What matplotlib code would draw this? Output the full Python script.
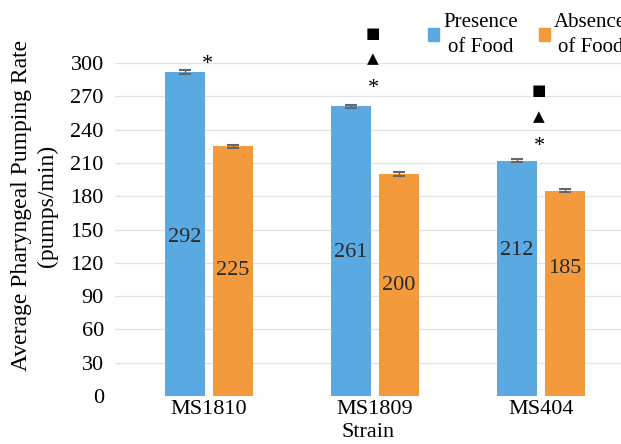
import matplotlib
matplotlib.use("Agg")
import matplotlib.pyplot as plt
from matplotlib.patches import Patch
import numpy as np

plt.rcParams['font.family'] = ['Liberation Serif', 'DejaVu Serif']

strains = ["MS1810", "MS1809", "MS404"]
presence = [292, 261, 212]
absence = [225, 200, 185]
presence_err = [1.5, 1.5, 1.5]
absence_err = [1.5, 1.5, 1.5]
series_labels = ["Presence\nof Food", "Absence\nof Food"]
yticks = [0, 30, 60, 90, 120, 150, 180, 210, 240, 270, 300]
# significance marks per strain, listed bottom to top
sig_marks = [["*"], ["*", "▲", "■"], ["*", "▲", "■"]]
sig_base = [303, 281, 229]
# heights of the in-bar value labels
presence_label_y = [143, 129, 131]
absence_label_y = [113, 100, 115]

blue = "#5ba9e2"
orange = "#f39a3c"

fig = plt.figure(figsize=(6.21, 4.44), dpi=100)
ax = fig.add_axes([0.185, 0.108, 0.815, 0.750])

x = np.arange(len(strains))
w = 0.24
off = 0.145
ekw = dict(ecolor="#666666", capsize=4, elinewidth=1, capthick=1.5)
ax.bar(x - off, presence, w, color=blue, yerr=presence_err, error_kw=ekw, zorder=3)
ax.bar(x + off, absence, w, color=orange, yerr=absence_err, error_kw=ekw, zorder=3)

for i in range(len(strains)):
    ax.text(x[i] - off, presence_label_y[i], str(presence[i]), ha="center", va="center",
            fontsize=16, color="#2a2a2a", zorder=4)
    ax.text(x[i] + off, absence_label_y[i], str(absence[i]), ha="center", va="center",
            fontsize=16, color="#2a2a2a", zorder=4)
    for k, m in enumerate(sig_marks[i]):
        fam = ['DejaVu Sans'] if m != "*" else ['Liberation Serif']
        fs = 11 if m != "*" else 16
        yy = sig_base[i] + k * 23 - (4 if m == "*" else 0)
        ax.text(x[i] - 0.01, yy, m, ha="center", va="center", fontsize=fs,
                family=fam, color="black", clip_on=False, zorder=5)

ax.set_xlim(-0.566, 2.482)
ax.set_ylim(0, 300)
ax.set_yticks(yticks)
ax.set_yticklabels([str(t) for t in yticks], fontsize=16)
ax.set_xticks(x)
ax.set_xticklabels(strains, fontsize=16)
ax.tick_params(axis="y", length=0, pad=8)
ax.tick_params(axis="x", length=0, pad=3)
ax.yaxis.grid(True, color="#e3e3e3", linewidth=0.9, zorder=0)
ax.set_axisbelow(True)
for s in ax.spines.values():
    s.set_visible(False)

ax.set_ylabel("Average Pharyngeal Pumping Rate\n(pumps/min)", fontsize=17,
              linespacing=1.3)
ax.yaxis.set_label_coords(-0.112, 0.572)
ax.set_xlabel("Strain", fontsize=16, labelpad=3)

handles = [Patch(color=blue), Patch(color=orange)]
leg = fig.legend(handles, series_labels, loc="upper left", bbox_to_anchor=(0.675, 0.99),
                 ncol=2, frameon=False, fontsize=15, handlelength=0.55, handleheight=0.55,
                 handletextpad=0.2, columnspacing=1.0, borderaxespad=0)
for t in leg.get_texts():
    t.set_multialignment("center")
    t.set_linespacing(1.45)

fig.savefig("out.png", dpi=100)
